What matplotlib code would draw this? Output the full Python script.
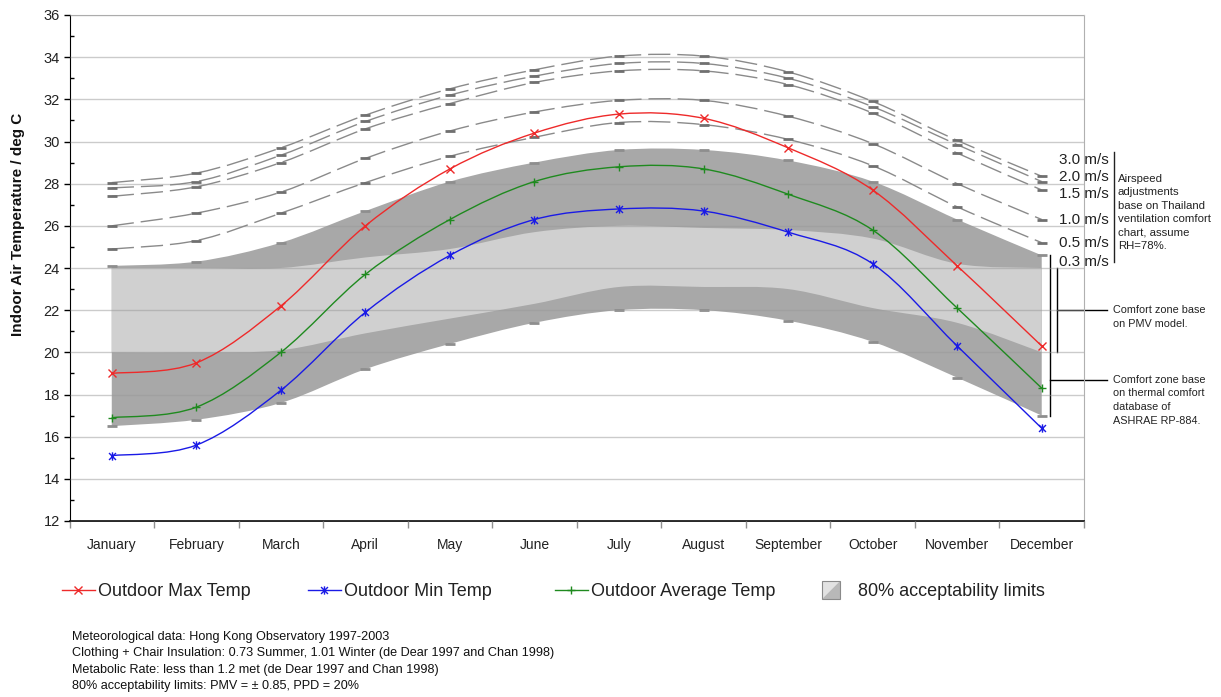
import numpy as np
import matplotlib
matplotlib.use("Agg")
import matplotlib.pyplot as plt
from matplotlib.path import Path
from matplotlib.patches import PathPatch, Polygon
from matplotlib.lines import Line2D
from matplotlib.legend_handler import HandlerBase
import matplotlib.transforms as mtransforms

plt.rcParams['font.family'] = ['Liberation Sans', 'DejaVu Sans']

# ---- data -------------------------------------------------------------
months = ['January', 'February', 'March', 'April', 'May', 'June', 'July',
          'August', 'September', 'October', 'November', 'December']

max_temp = [19.0, 19.5, 22.2, 26.0, 28.7, 30.4, 31.3, 31.1, 29.7, 27.7, 24.1, 20.3]
min_temp = [15.1, 15.6, 18.2, 21.9, 24.6, 26.3, 26.8, 26.7, 25.7, 24.2, 20.3, 16.4]
avg_temp = [16.9, 17.4, 20.0, 23.7, 26.3, 28.1, 28.8, 28.7, 27.5, 25.8, 22.1, 18.3]

# comfort zone from the ASHRAE RP-884 database (upper limit = 0.3 m/s)
ashrae_low = [16.5, 16.8, 17.6, 19.2, 20.4, 21.4, 22.0, 22.0, 21.5, 20.5, 18.8, 17.0]
ashrae_high = [24.1, 24.3, 25.2, 26.7, 28.1, 29.0, 29.6, 29.6, 29.1, 28.1, 26.3, 24.6]

# comfort zone from the PMV model
pmv_low = [20.0, 20.0, 20.1, 20.9, 21.6, 22.3, 23.1, 23.1, 23.0, 22.1, 21.4, 20.0]
pmv_high = [24.0, 24.0, 24.0, 24.5, 24.9, 25.7, 26.0, 25.9, 25.8, 25.4, 24.2, 24.0]

# upper limits with elevated air speed
air_05 = [24.9, 25.3, 26.6, 28.05, 29.3, 30.2, 30.9, 30.8, 30.1, 28.85, 26.9, 25.2]
air_10 = [26.0, 26.6, 27.6, 29.2, 30.5, 31.4, 31.95, 31.95, 31.2, 29.9, 28.0, 26.3]
air_15 = [27.4, 27.85, 29.0, 30.6, 31.8, 32.8, 33.35, 33.35, 32.7, 31.35, 29.45, 27.7]
air_20 = [27.8, 28.1, 29.35, 30.95, 32.2, 33.1, 33.7, 33.7, 33.0, 31.65, 29.85, 28.1]
air_30 = [28.05, 28.5, 29.7, 31.25, 32.5, 33.4, 34.05, 34.05, 33.3, 31.9, 30.05, 28.35]

speed_labels = ['3.0 m/s', '2.0 m/s', '1.5 m/s', '1.0 m/s', '0.5 m/s', '0.3 m/s']
speed_label_y = [29.1, 28.3, 27.5, 26.3, 25.2, 24.3]

notes = ["Meteorological data: Hong Kong Observatory 1997-2003",
         "Clothing + Chair Insulation: 0.73 Summer, 1.01 Winter (de Dear 1997 and Chan 1998)",
         "Metabolic Rate: less than 1.2 met (de Dear 1997 and Chan 1998)",
         "80% acceptability limits: PMV = \u00b1 0.85, PPD = 20%"]

# ---- figure -------------------------------------------------------------
W, H = 1221, 697
fig = plt.figure(figsize=(W / 100, H / 100), dpi=100)
fig.patch.set_facecolor('white')
ax = fig.add_axes([69.5 / W, 1 - 521 / H, (1084 - 69.5) / W, (521 - 15) / H])

x = np.arange(1, len(months) + 1, dtype=float)


def bezier(xs, ys):
    """Smooth curve through the points as cubic Bezier segments."""
    p = np.column_stack([xs, ys]).astype(float)
    n = len(p)
    verts = [p[0]]
    codes = [Path.MOVETO]
    for i in range(n - 1):
        p0 = p[i - 1] if i > 0 else p[i]
        p1, p2 = p[i], p[i + 1]
        p3 = p[i + 2] if i + 2 < n else p[i + 1]
        verts += [p1 + (p2 - p0) / 6.0, p2 - (p3 - p1) / 6.0, p2]
        codes += [Path.CURVE4] * 3
    return verts, codes


def smooth_band(lo, hi, color, z):
    vu, cu = bezier(x, hi)
    vl, cl = bezier(x, lo)
    verts = vu + vl[::-1] + [vu[0]]
    codes = cu + [Path.LINETO] + [Path.CURVE4] * (len(vl) - 1) + [Path.CLOSEPOLY]
    ax.add_patch(PathPatch(Path(verts, codes), facecolor=color,
                           edgecolor='none', zorder=z))


def smooth_line(ys, color, lw, z, **kw):
    v, c = bezier(x, ys)
    ax.add_patch(PathPatch(Path(v, c), fill=False, edgecolor=color,
                           lw=lw, zorder=z, **kw))


# comfort zones
smooth_band(ashrae_low, ashrae_high, '#a8a8a8', 1)
smooth_band(pmv_low, pmv_high, '#d0d0d0', 1.1)
ax.plot(x, ashrae_high, ls='none', marker='_', ms=7, mew=2, color='#8e8e8e', zorder=1.2)
ax.plot(x, ashrae_low, ls='none', marker='_', ms=7, mew=2, color='#8e8e8e', zorder=1.2)

# air speed limits
for ys in (air_05, air_10, air_15, air_20, air_30):
    smooth_line(ys, '#8a8a8a', 1.0, 3, linestyle=(0, (16, 5)), capstyle='butt')
    ax.plot(x, ys, ls='none', marker='_', ms=7, mew=2, color='#707070', zorder=3.1)

# outdoor temperatures
asterisk = Path([(-1, -1), (1, 1), (-1, 1), (1, -1), (0, -1.2), (0, 1.2)],
                [Path.MOVETO, Path.LINETO, Path.MOVETO, Path.LINETO,
                 Path.MOVETO, Path.LINETO])
series = [(max_temp, '#ee2a2a', 'x', 'Outdoor Max Temp'),
          (min_temp, '#1a1ae6', asterisk, 'Outdoor Min Temp'),
          (avg_temp, '#1f8a1f', '+', 'Outdoor Average Temp')]
handles = []
for ys, col, mk, lab in series:
    smooth_line(ys, col, 1.0, 4)
    ax.plot(x, ys, ls='none', marker=mk, ms=6, mew=1.0, color=col, zorder=4.1)
    handles.append(Line2D([], [], color=col, lw=1.0, marker=mk, ms=6, mew=1.0))

# axes styling
ax.set_xlim(0.5, 12.5)
ax.set_ylim(12, 36)
ax.set_yticks(np.arange(12, 37, 2))
ax.set_yticks(np.arange(12, 37, 1), minor=True)
ax.set_xticks(np.arange(0.5, 12.6, 1))
ax.set_xticklabels([])
ax.set_xticks(x, minor=True)
ax.set_xticklabels(months, minor=True)
ax.tick_params(axis='y', which='major', direction='out', length=4, width=1,
               labelsize=10.5, pad=3, labelcolor='#222222')
ax.tick_params(axis='y', which='minor', direction='in', length=3, width=1)
ax.tick_params(axis='x', which='major', direction='out', length=5, width=1,
               color='#909090')
ax.tick_params(axis='x', which='minor', length=0, pad=12, labelsize=10,
               labelcolor='#222222')
ax.set_axisbelow(False)
ax.yaxis.grid(True, which='major', color='#999999', alpha=0.5, lw=1)
ax.spines['left'].set_color('black')
ax.spines['bottom'].set_color('black')
ax.spines['bottom'].set_linewidth(1.2)
ax.spines['top'].set_color('#c0c0c0')
ax.spines['right'].set_color('#b0b0b0')

fig.text(18 / W, 1 - 224 / H, 'Indoor Air Temperature / deg C', rotation=90,
         ha='center', va='center', fontsize=11, fontweight='bold', color='#111111')

# annotations on the right
blend = mtransforms.blended_transform_factory(fig.transFigure, ax.transData)
blend_up = mtransforms.offset_copy(blend, fig=fig, y=5, units='dots')
for lab, yv in zip(speed_labels, speed_label_y):
    fig.text(1059 / W, yv, lab, transform=blend, ha='left', va='center',
             fontsize=11, color='#222222')

ax.plot([1114 / W] * 2, [29.5, 24.3], transform=blend, color='#222222', lw=1, clip_on=False)
fig.text(1118 / W, 1 - 174 / H,
         'Airspeed\nadjustments\nbase on Thailand\nventilation comfort\nchart, assume\nRH=78%.',
         ha='left', va='top', fontsize=8.2, linespacing=1.42, color='#222222')

ax.plot([1057 / W] * 2, [pmv_high[-1], pmv_low[-1]], transform=blend, color='black', lw=1, clip_on=False)
ax.plot([1057 / W, 1107 / W], [22.0, 22.0], transform=blend, color='black', lw=1, clip_on=False)
fig.text(1113 / W, 22.0, 'Comfort zone base\non PMV model.', transform=blend_up,
         ha='left', va='top', fontsize=7.8, linespacing=1.45, color='#222222')
ax.plot([1050 / W] * 2, [ashrae_high[-1], ashrae_low[-1]], transform=blend, color='black', lw=1, clip_on=False)
ax.plot([1050 / W, 1107 / W], [18.7, 18.7], transform=blend, color='black', lw=1, clip_on=False)
fig.text(1113 / W, 18.7, 'Comfort zone base\non thermal comfort\ndatabase of\nASHRAE RP-884.',
         transform=blend_up, ha='left', va='top', fontsize=7.8, linespacing=1.45,
         color='#222222')


# legend
class GradientSquare(HandlerBase):
    def create_artists(self, legend, orig_handle, xdescent, ydescent, width,
                       height, fontsize, trans):
        s = 13.0
        x0 = -xdescent
        y0 = -ydescent + height / 2 - s / 2
        light = Polygon([(x0, y0), (x0, y0 + s), (x0 + s, y0 + s)], closed=True,
                        facecolor='#e2e2e2', edgecolor='none', transform=trans)
        dark = Polygon([(x0, y0), (x0 + s, y0), (x0 + s, y0 + s)], closed=True,
                       facecolor='#b8b8b8', edgecolor='none', transform=trans)
        frame = Polygon([(x0, y0), (x0 + s, y0), (x0 + s, y0 + s), (x0, y0 + s)],
                        closed=True, facecolor='none', edgecolor='#8a8a8a',
                        lw=0.8, transform=trans)
        return [light, dark, frame]


zone_handle = Polygon([[0, 0]], closed=True)
legend_items = [(handles[0], 'Outdoor Max Temp', 62),
                (handles[1], 'Outdoor Min Temp', 308),
                (handles[2], 'Outdoor Average Temp', 555),
                (zone_handle, '80% acceptability limits', 822)]
for h, lab, xp in legend_items:
    fig.legend([h], [lab], loc='center left', bbox_to_anchor=(xp / W, 1 - 592 / H),
               frameon=False, fontsize=13, handlelength=1.82, handletextpad=0.17,
               borderpad=0, borderaxespad=0, labelcolor='#222222',
               handler_map={Polygon: GradientSquare()})

fig.text(72 / W, 1 - 631 / H, '\n'.join(notes), ha='left', va='top',
         fontsize=9.1, linespacing=1.48, color='#111111')

fig.savefig('out.png', dpi=100)
